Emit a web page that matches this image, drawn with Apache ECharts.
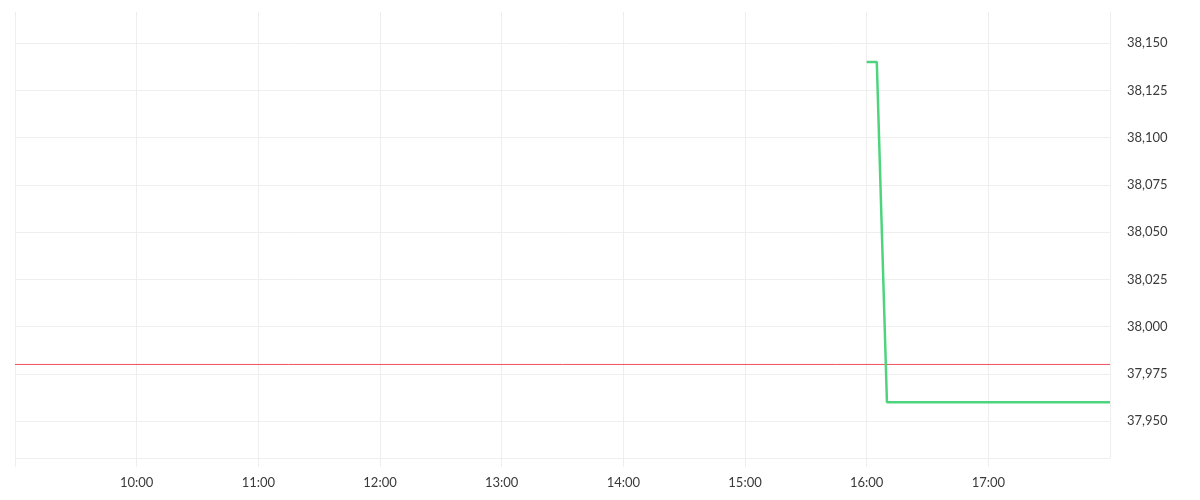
<!DOCTYPE html>
<html>
<head>
<meta charset="utf-8">
<script src="https://cdn.jsdelivr.net/npm/echarts@6/dist/echarts.min.js"></script>
<style>
html,body{margin:0;padding:0;background:#fff;}
#chart{width:1200px;height:500px;}
</style>
</head>
<body>
<div id="chart"></div>
<script>
// Data
const times = ['16:00', '16:05', '16:10', '18:00'];
const prices = [38140, 38140, 37960, 37960];
const referenceTimes = ['09:00', '18:00'];
const referencePrice = 37980;
const yTicks = [37950, 37975, 38000, 38025, 38050, 38075, 38100, 38125, 38150];
const xStart = '09:00';
const xEnd = '18:00';
const yMin = 37930.5;
const yMax = 38166.5;

function toTs(hm) {
  const p = hm.split(':');
  return new Date(2024, 0, 2, +p[0], +p[1], 0).getTime();
}

const seriesData = times.map((t, i) => [toTs(t), prices[i]]);
const refData = referenceTimes.map(t => [toTs(t), referencePrice]);
const gridColor = '#eeeeee';
const fontFam = 'Lato, "DejaVu Sans", sans-serif';

const chart = echarts.init(document.getElementById('chart'));
chart.setOption({
  animation: false,
  backgroundColor: '#ffffff',
  grid: { left: 15, right: 90, top: 12, bottom: 42, containLabel: false, outerBoundsMode: 'none' },
  xAxis: {
    type: 'time',
    min: toTs(xStart),
    max: toTs(xEnd),
    minInterval: 3600 * 1000,
    maxInterval: 3600 * 1000,
    axisLine: { show: true, lineStyle: { color: gridColor, width: 1 } },
    axisTick: { show: true, length: 9, lineStyle: { color: gridColor } },
    splitLine: { show: true, lineStyle: { color: gridColor, width: 1 } },
    axisLabel: {
      margin: 18,
      color: '#3a3a3a',
      fontSize: 13,
      fontFamily: fontFam,
      showMinLabel: false,
      showMaxLabel: false,
      formatter: function (v) {
        const d = new Date(v);
        if (d.getHours() === 9 || d.getHours() === 18) return '';
        return String(d.getHours()).padStart(2, '0') + ':' + String(d.getMinutes()).padStart(2, '0');
      }
    }
  },
  yAxis: {
    type: 'value',
    position: 'right',
    min: yMin,
    max: yMax,
    axisLine: { show: true, lineStyle: { color: gridColor, width: 1 } },
    axisTick: { show: false, customValues: yTicks },
    splitLine: { show: true, lineStyle: { color: gridColor, width: 1 } },
    axisLabel: {
      customValues: yTicks,
      margin: 17,
      color: '#3a3a3a',
      fontSize: 13,
      fontFamily: fontFam,
      formatter: function (v) { return Number(v).toLocaleString('en-US'); }
    }
  },
  series: [{
    type: 'line',
    data: refData,
    showSymbol: false,
    symbol: 'none',
    silent: true,
    z: 1,
    lineStyle: { color: '#f0505f', width: 1 },
    itemStyle: { color: '#f0505f' }
  }, {
    type: 'line',
    data: seriesData,
    showSymbol: false,
    symbol: 'none',
    z: 2,
    lineStyle: { color: '#4fd47e', width: 2.5 },
    itemStyle: { color: '#4fd47e' }
  }]
});
</script>
</body>
</html>
